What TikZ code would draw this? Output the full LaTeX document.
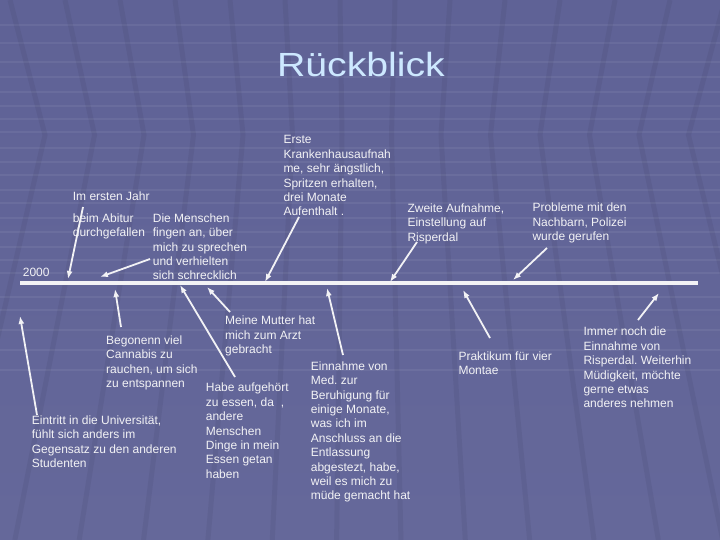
\documentclass[tikz,border=0pt]{standalone}
\usepackage{fontspec}
\setmainfont{Liberation Sans}
\usetikzlibrary{arrows.meta}
\frenchspacing

\definecolor{bgtop}{HTML}{5F6296}
\definecolor{bgmid}{HTML}{56598B}
\definecolor{bgbot}{HTML}{65689A}
\definecolor{titleblue}{HTML}{CDE8FF}
\definecolor{linewhite}{HTML}{F2F2F5}

\tikzset{
    txt/.style={anchor=north west, inner sep=0pt, align=left, text=linewhite,
        font=\fontsize{12}{14.4}\selectfont},
    pfeil/.style={-{Latex[length=8pt,width=6pt]}, line width=1.8pt, draw=linewhite}
}

\begin{document}
\begin{tikzpicture}[x=1pt, y=-1pt]

        % Hintergrund
        \useasboundingbox (0,0) rectangle (720,540);
        \shade[top color=bgtop, middle color=bgmid, bottom color=bgbot] (0,0) rectangle (720,540);
        \foreach \y in {25,43,62,77,92,106,119,132,148,162,175,190,203,218,232,247,260,273,297,310,330,350,370} {
            \draw[white, opacity=0.06, line width=2pt] (0,\y) -- (720,\y);
        }
        \foreach \t in {-100,-45,...,820} {
            \pgfmathsetmacro{\apex}{\t+0.1*(360-\t)}
            \pgfmathsetmacro{\unten}{\apex+0.3*(\apex-360)}
            \draw[black, opacity=0.05, line width=5pt] (\t,0) -- (\apex,135) -- (\unten,540);
        }

        % Titel
        \node[anchor=base, text=titleblue, font=\fontsize{33.5}{40}\selectfont] (titel) at (361,77) {\scalebox{1.17}[1]{Rückblick}};

        % Zeitstrahl
        \draw[linewhite, line width=4pt] (20,283) coordinate (zeit-a) -- (698,283) coordinate (zeit-b);

        % Texte oben
        \node[txt] (jahr) at (72.7,191.4) {Im ersten Jahr};
        \node[txt] (abitur) at (72.7,213.4) {beim Abitur\\durchgefallen};
        \node[txt] (menschen) at (152.7,213.4) {Die Menschen\\fingen an, über\\mich zu sprechen\\und verhielten\\sich schrecklich};
        \node[txt] (jahr2000) at (22.7,268.1) {2000};
        \node[txt] (erste) at (283.3,135.4) {Erste\\Krankenhausaufnah\\me, sehr ängstlich,\\Spritzen erhalten,\\drei Monate\\Aufenthalt .};
        \node[txt] (zweite) at (407.3,203.7) {Zweite Aufnahme,\\Einstellung auf\\Risperdal};
        \node[txt] (probleme) at (532.3,202.9) {Probleme mit den\\Nachbarn, Polizei\\wurde gerufen};

        % Texte unten
        \node[txt] (cannabis) at (106,335.4) {Begonenn viel\\Cannabis zu\\rauchen, um sich\\zu entspannen};
        \node[txt] (uni) at (31.7,415.4) {Eintritt in die Universität,\\fühlt sich anders im\\Gegensatz zu den anderen\\Studenten};
        \node[txt] (mutter) at (225,316.1) {Meine Mutter hat\\mich zum Arzt\\gebracht};
        \node[txt] (essen) at (205.7,383.1) {Habe aufgehört\\zu essen, da\hspace{7pt},\\andere\\Menschen\\Dinge in mein\\Essen getan\\haben};
        \node[txt] (einnahme) at (310.7,361.4) {Einnahme von\\Med. zur\\Beruhigung für\\einige Monate,\\was ich im\\Anschluss an die\\Entlassung\\abgestezt, habe,\\weil es mich zu\\müde gemacht hat};
        \node[txt] (praktikum) at (458.3,351.4) {Praktikum für vier\\Montae};
        \node[txt] (immer) at (583.3,327.1) {Immer noch die\\Einnahme von\\Risperdal. Weiterhin\\Müdigkeit, möchte\\gerne etwas\\anderes nehmen};

        % Pfeile: Anfang
        \coordinate (a-jahr) at (83,207);
        \coordinate (a-menschen) at (150,259);
        \coordinate (a-erste) at (299,217);
        \coordinate (a-zweite) at (417,242);
        \coordinate (a-probleme) at (547,248);
        \coordinate (a-cannabis) at (121,327);
        \coordinate (a-uni) at (37,415);
        \coordinate (a-essen) at (235,377);
        \coordinate (a-mutter) at (230,312);
        \coordinate (a-einnahme) at (343,355);
        \coordinate (a-praktikum) at (490,338);
        \coordinate (a-immer) at (638,320);

        % Pfeile: Spitze am Zeitstrahl
        \coordinate (e-jahr) at (68,279);
        \coordinate (e-menschen) at (100,277);
        \coordinate (e-erste) at (265,282);
        \coordinate (e-zweite) at (390,282);
        \coordinate (e-probleme) at (513,280);
        \coordinate (e-cannabis) at (115,289);
        \coordinate (e-uni) at (20,316);
        \coordinate (e-essen) at (180,285);
        \coordinate (e-mutter) at (207,287);
        \coordinate (e-einnahme) at (327,288);
        \coordinate (e-praktikum) at (463,290);
        \coordinate (e-immer) at (659,293);

        \foreach \p in {jahr,menschen,erste,zweite,probleme,cannabis,uni,essen,mutter,einnahme,praktikum,immer} {
            \draw[pfeil] (a-\p) -- (e-\p);
        }

    \end{tikzpicture}
\end{document}
